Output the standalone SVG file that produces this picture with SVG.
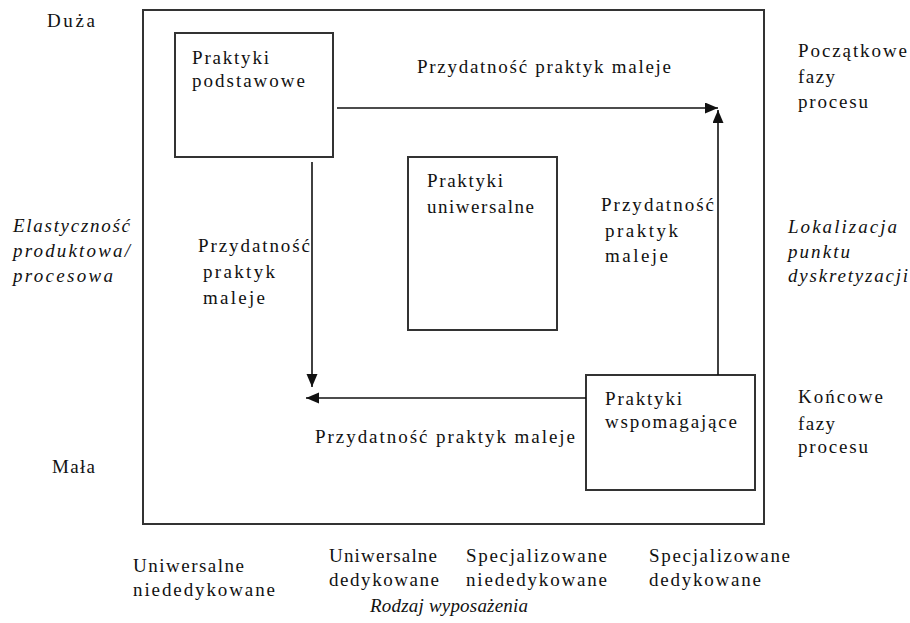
<svg xmlns="http://www.w3.org/2000/svg" width="910" height="623" viewBox="0 0 910 623">
<style>
text{font-family:"Liberation Serif","Times New Roman",serif;font-size:19px;fill:#111;}
.it{font-style:italic;}
.box{fill:none;stroke:#333;stroke-width:2;}
.conn{fill:none;stroke:#111;stroke-width:1.6;marker-end:url(#ah);}
</style>
<defs>
<marker id="ah" markerUnits="userSpaceOnUse" markerWidth="14" markerHeight="12" refX="13" refY="5.5" orient="auto">
<path d="M0,0 L13,5.5 L0,11 Z" fill="#111"/>
</marker>
</defs>
<rect width="910" height="623" fill="#fff"/>
<g id="frame">
<rect class="box" x="143" y="10" width="621" height="514"/>
</g>
<g id="axis-labels">
<text x="47" y="27" textLength="48">Duża</text>
<text x="52" y="473" textLength="43">Mała</text>
<text class="it" x="13" y="232" textLength="117">Elastyczność</text>
<text class="it" x="13" y="257" textLength="117">produktowa/</text>
<text class="it" x="13" y="282" textLength="100">procesowa</text>
<text class="it" x="788" y="233" textLength="109">Lokalizacja</text>
<text class="it" x="788" y="258" textLength="62">punktu</text>
<text class="it" x="788" y="282" textLength="120">dyskretyzacji</text>
<text x="798" y="57" textLength="109">Początkowe</text>
<text x="798" y="83" textLength="37">fazy</text>
<text x="798" y="108" textLength="70">procesu</text>
<text x="798" y="403" textLength="85">Końcowe</text>
<text x="798" y="430" textLength="37">fazy</text>
<text x="798" y="453" textLength="70">procesu</text>
<text x="133" y="572" textLength="111">Uniwersalne</text>
<text x="133" y="596" textLength="142">niededykowane</text>
<text x="329" y="562" textLength="108">Uniwersalne</text>
<text x="329" y="586" textLength="110">dedykowane</text>
<text x="466" y="562" textLength="141">Specjalizowane</text>
<text x="466" y="586" textLength="141">niededykowane</text>
<text x="649" y="562" textLength="141">Specjalizowane</text>
<text x="649" y="586" textLength="112">dedykowane</text>
<text class="it" x="370" y="612" textLength="158">Rodzaj wyposażenia</text>
</g>
<g id="node-podstawowe">
<rect class="box" x="175" y="33" width="158" height="124"/>
<text x="192" y="64" textLength="77">Praktyki</text>
<text x="192" y="87" textLength="113">podstawowe</text>
</g>
<g id="node-uniwersalne">
<rect class="box" x="408" y="157" width="149" height="173"/>
<text x="427" y="187" textLength="76">Praktyki</text>
<text x="427" y="213" textLength="107">uniwersalne</text>
</g>
<g id="node-wspomagajace">
<rect class="box" x="586" y="375" width="169" height="115"/>
<text x="605" y="405" textLength="77">Praktyki</text>
<text x="605" y="428" textLength="132">wspomagające</text>
</g>
<g id="connectors">
<path class="conn" d="M337,108 H718"/>
<path class="conn" d="M718,375 V110"/>
<path class="conn" d="M312,162 V387"/>
<path class="conn" d="M586,398 H306"/>
</g>
<g id="connector-labels">
<text x="417" y="73" textLength="254">Przydatność praktyk maleje</text>
<text x="601" y="211" textLength="113">Przydatność</text>
<text x="605" y="237" textLength="73">praktyk</text>
<text x="605" y="262" textLength="63">maleje</text>
<text x="198" y="252" textLength="112">Przydatność</text>
<text x="203" y="278" textLength="72">praktyk</text>
<text x="203" y="304" textLength="62">maleje</text>
<text x="315" y="443" textLength="260">Przydatność  praktyk maleje</text>
</g>
</svg>
